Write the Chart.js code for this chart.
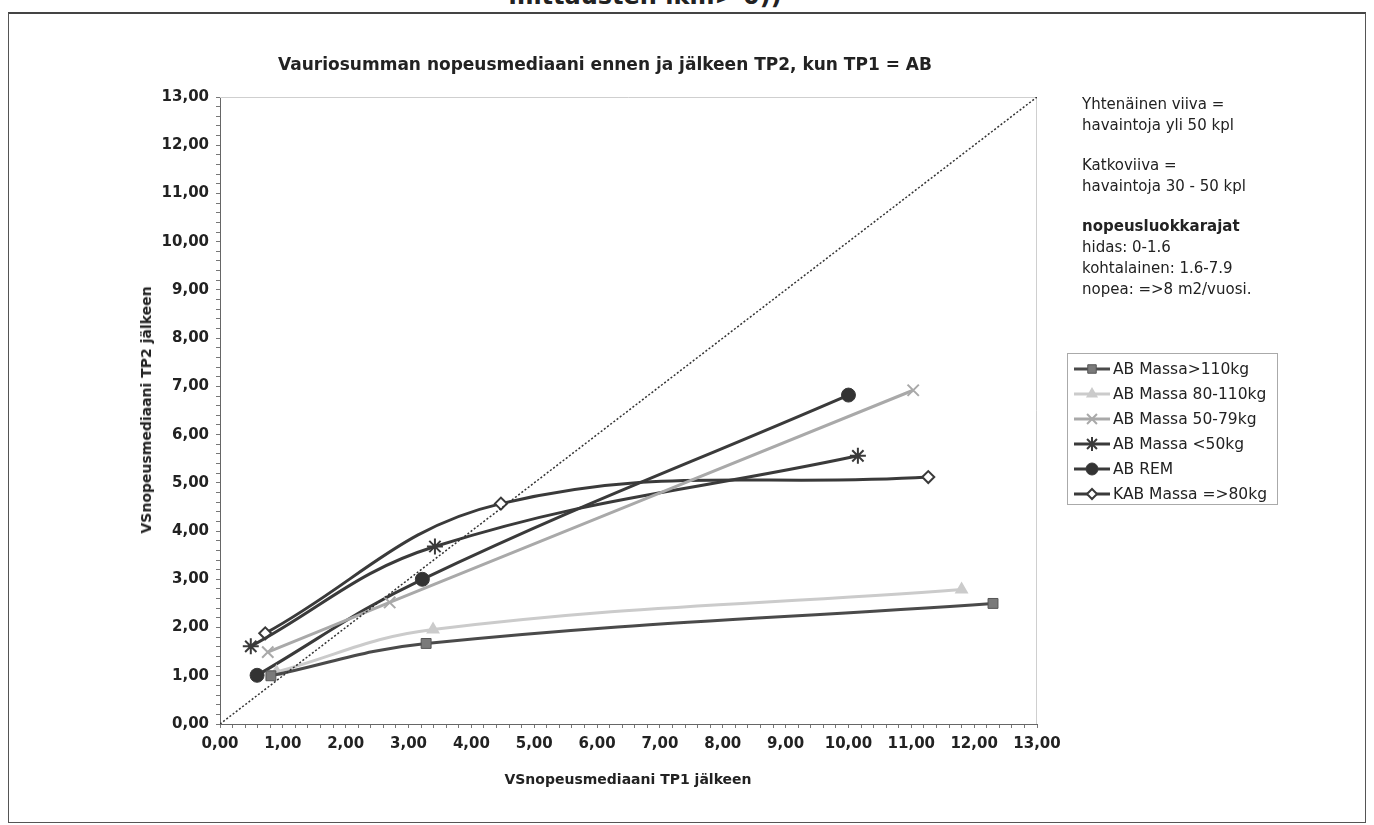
<!DOCTYPE html>
<html lang="fi">
<head>
<meta charset="UTF-8">
<title>Vauriosumman nopeusmediaani</title>
<script src="https://cdn.jsdelivr.net/npm/chart.js"></script>
<style>
  body { margin: 0; background: #fff; font-family: "DejaVu Sans", sans-serif; color: #222; }
  #sivu { position: relative; width: 1374px; height: 825px; overflow: hidden; }
  #kehys { position: absolute; left: 8px; top: 12px; width: 1358px; height: 811px;
           border: 1px solid #555; border-top: 2px solid #444; box-sizing: border-box; }
  #ylaotsikko { position: absolute; top: -18px; left: 0; width: 1290px; text-align: center;
                font-weight: bold; font-size: 24px; }
  #kaavio { position: absolute; left: 0; top: 0; }
  #otsikko { position: absolute; top: 54px; left: 0; width: 1210px; text-align: center;
             font-weight: bold; font-size: 17px; }
  #yotsikko { position: absolute; left: 146px; top: 410px; transform: translate(-50%, -50%) rotate(-90deg);
              font-weight: bold; font-size: 14px; white-space: nowrap; }
  #xotsikko { position: absolute; left: 628px; top: 771px; transform: translateX(-50%);
              font-weight: bold; font-size: 14px; white-space: nowrap; }
  #huomiot { position: absolute; left: 1082px; top: 94px; font-size: 15px; line-height: 21px; }
  #huomiot p { margin: 0 0 19px 0; }
  #selite { position: absolute; left: 1067px; top: 353px; width: 211px; height: 152px;
            border: 1px solid #aaa; box-sizing: border-box; padding-top: 2px; }
  .rivi { height: 25px; display: flex; align-items: center; font-size: 15.5px; white-space: nowrap; }
  .rivi canvas { margin-left: 4px; margin-right: 1px; }
</style>
</head>
<body>
<div id="sivu">
  <div id="kehys"></div>
  <div id="ylaotsikko">mittausten lkm&gt; 0))</div>
  <canvas id="kaavio" width="1374" height="825"></canvas>
  <div id="otsikko">Vauriosumman nopeusmediaani ennen ja jälkeen TP2, kun TP1 = AB</div>
  <div id="yotsikko">VSnopeusmediaani TP2 jälkeen</div>
  <div id="xotsikko">VSnopeusmediaani TP1 jälkeen</div>
  <div id="huomiot">
    <p>Yhtenäinen viiva =<br>havaintoja yli 50 kpl</p>
    <p>Katkoviiva =<br>havaintoja 30 - 50 kpl</p>
    <p><b>nopeusluokkarajat</b><br>hidas: 0-1.6<br>kohtalainen: 1.6-7.9<br>nopea: =&gt;8 m2/vuosi.</p>
  </div>
  <div id="selite"></div>
</div>

<script>
  // mediaanit: x = TP1 jälkeen, y = TP2 jälkeen
  const nimet = ["AB Massa>110kg", "AB Massa 80-110kg", "AB Massa 50-79kg",
                 "AB Massa <50kg", "AB REM", "KAB Massa =>80kg"];

  const xYli110 = [0.81, 3.28, 12.30];
  const yYli110 = [1.00, 1.67, 2.50];
  const x80_110 = [0.90, 3.39, 11.80];
  const y80_110 = [1.08, 1.96, 2.79];
  const x50_79 = [0.76, 2.70, 11.03];
  const y50_79 = [1.49, 2.52, 6.92];
  const xAlle50 = [0.49, 3.42, 10.15];
  const yAlle50 = [1.61, 3.68, 5.56];
  const xRem = [0.59, 3.22, 10.00];
  const yRem = [1.01, 3.00, 6.82];
  const xKab = [0.72, 4.47, 11.27];
  const yKab = [1.88, 4.57, 5.12];

  // y = x -viiva
  const diagonaali = [0, 13];
  const akseliMin = 0, akseliMax = 13;

  const pisteet = (xs, ys) => xs.map((x, i) => ({ x: x, y: ys[i] }));

  const tyylit = [
    { vari: "#4a4a4a", tayte: "#7a7a7a", piste: "rect", koko: 7, lev: 3 },
    { vari: "#cbcbcb", tayte: "#cbcbcb", piste: "triangle", koko: 6, lev: 3 },
    { vari: "#a9a9a9", tayte: "#a9a9a9", piste: "crossRot", koko: 8, lev: 3 },
    { vari: "#3a3a3a", tayte: "#3a3a3a", piste: "star", koko: 8, lev: 3 },
    { vari: "#3a3a3a", tayte: "#333333", piste: "circle", koko: 7, lev: 3 },
    { vari: "#3a3a3a", tayte: "#ffffff", piste: "rectRot", koko: 6, lev: 3 }
  ];

  const sarjat = [
    pisteet(xYli110, yYli110), pisteet(x80_110, y80_110), pisteet(x50_79, y50_79),
    pisteet(xAlle50, yAlle50), pisteet(xRem, yRem), pisteet(xKab, yKab)
  ];

  const datasets = sarjat.map((d, i) => ({
    label: nimet[i],
    data: d,
    showLine: true,
    tension: 0.4,
    borderColor: tyylit[i].vari,
    borderWidth: tyylit[i].lev,
    pointStyle: tyylit[i].piste,
    pointRadius: tyylit[i].koko,
    pointBackgroundColor: tyylit[i].tayte,
    pointBorderColor: tyylit[i].piste === "rect" ? "#555" : tyylit[i].vari,
    pointBorderWidth: tyylit[i].piste === "circle" || tyylit[i].piste === "rect" ? 1 : 2
  }));

  datasets.unshift({
    label: "x = y",
    data: pisteet(diagonaali, diagonaali),
    showLine: true,
    borderColor: "#333",
    borderWidth: 1.5,
    borderDash: [2, 2],
    pointRadius: 0
  });

  const muoto = v => Math.abs(v - Math.round(v)) < 1e-6 ? v.toFixed(2).replace(".", ",") : "";

  // kuva-alueen reunat: ylä- ja oikea reuna vaalean harmaalla
  const reunat = {
    id: "reunat",
    beforeDatasetsDraw(chart) {
      const { ctx, chartArea: a } = chart;
      ctx.save();
      ctx.strokeStyle = "#cfcfcf";
      ctx.lineWidth = 1;
      ctx.beginPath();
      ctx.moveTo(a.left, a.top + 0.5);
      ctx.lineTo(a.right - 0.5, a.top + 0.5);
      ctx.lineTo(a.right - 0.5, a.bottom);
      ctx.stroke();
      ctx.restore();
    }
  };

  const akseli = (leveys, korkeus) => ({
    type: "linear",
    min: akseliMin,
    max: akseliMax,
    afterFit(scale) {
      if (leveys) scale.width = leveys;
      if (korkeus) scale.height = korkeus;
    },
    ticks: {
      stepSize: 0.2,
      autoSkip: false,
      maxRotation: 0,
      color: "#222",
      font: { family: "DejaVu Sans", weight: "bold", size: 15 },
      padding: 7,
      callback: muoto
    },
    grid: { drawOnChartArea: false, tickLength: 4, color: "#777" },
    border: { color: "#666", width: 1 }
  });

  const kaavio = new Chart(document.getElementById("kaavio"), {
    type: "scatter",
    data: { datasets: datasets },
    options: {
      responsive: false,
      animation: false,
      layout: { padding: { left: 0, top: 97, right: 337, bottom: 0 } },
      plugins: { legend: { display: false }, tooltip: { enabled: false } },
      scales: {
        x: akseli(null, 101),
        y: akseli(220, null)
      }
    },
    plugins: [reunat]
  });

  // selite: viiva + merkki kuten sarjassa
  const selite = document.getElementById("selite");
  nimet.forEach((nimi, i) => {
    const rivi = document.createElement("div");
    rivi.className = "rivi";
    const c = document.createElement("canvas");
    c.width = 40; c.height = 20;
    const ctx = c.getContext("2d");
    const t = tyylit[i];
    ctx.strokeStyle = t.vari;
    ctx.lineWidth = t.lev;
    ctx.beginPath(); ctx.moveTo(2, 10); ctx.lineTo(38, 10); ctx.stroke();
    ctx.fillStyle = t.tayte;
    ctx.strokeStyle = datasets[i + 1].pointBorderColor;
    ctx.lineWidth = datasets[i + 1].pointBorderWidth;
    Chart.helpers.drawPoint(ctx, { pointStyle: t.piste, radius: t.koko - 1, rotation: 0, borderWidth: 1 }, 20, 10);
    rivi.appendChild(c);
    rivi.appendChild(document.createTextNode(nimi));
    selite.appendChild(rivi);
  });
</script>
</body>
</html>
